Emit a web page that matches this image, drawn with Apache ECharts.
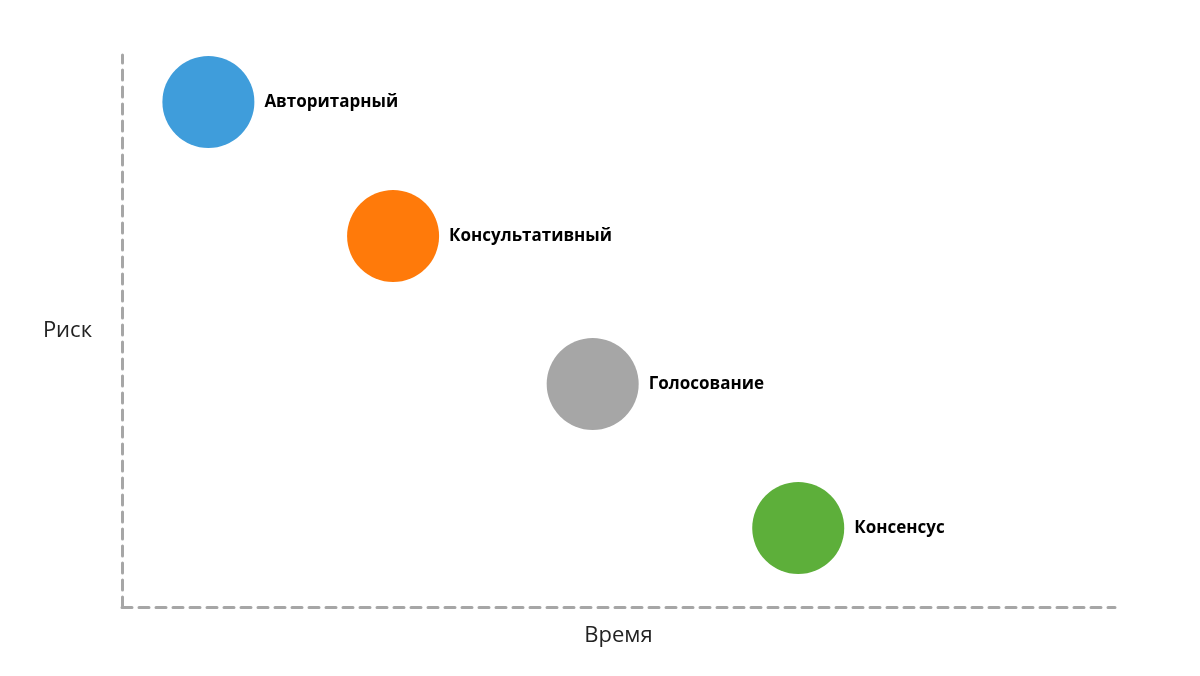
<!DOCTYPE html>
<html><head><meta charset="utf-8">
<script src="https://cdn.jsdelivr.net/npm/echarts@6/dist/echarts.min.js"></script>
<style>html,body{margin:0;background:#fff}#c{width:1200px;height:676px}</style>
</head><body><div id="c"></div>
<script>
const names = ['Авторитарный','Консультативный','Голосование','Консенсус'];
const timeVals = [8.7, 27.3, 47.4, 68.1];
const riskVals = [91.5, 67.2, 40.4, 14.3];
const colors = ['#3f9ddb','#ff7a0a','#a6a6a6','#5daf3a'];
const chart = echarts.init(document.getElementById('c'));
chart.setOption({
  animation:false,
  grid:{left:122,right:85,top:55,bottom:69},
  xAxis:{type:'value',min:0,max:100,name:'Время',nameLocation:'middle',nameGap:18,
    nameTextStyle:{fontSize:22,color:'#222',fontFamily:'Open Sans'},
    axisLine:{lineStyle:{color:'#a6a6a6',width:3,type:[10,7]}},axisTick:{show:false},axisLabel:{show:false},splitLine:{show:false}},
  yAxis:{type:'value',min:0,max:100,name:'Риск',nameLocation:'middle',nameGap:30,nameRotate:0,
    nameTextStyle:{fontSize:22,color:'#222',fontFamily:'Open Sans',padding:[0,0,56,0]},
    axisLine:{show:true,lineStyle:{color:'#a6a6a6',width:3,type:[10,7]}},axisTick:{show:false},axisLabel:{show:false},splitLine:{show:false}},
  series:[{type:'scatter',symbolSize:92,
    data:names.map((n,i)=>({value:[timeVals[i],riskVals[i]],name:n,itemStyle:{color:colors[i],opacity:1}})),
    label:{show:true,position:'right',distance:10,formatter:'{b}',fontSize:17,fontWeight:'bold',color:'#000',fontFamily:'Open Sans'}
  }]
});
</script></body></html>
